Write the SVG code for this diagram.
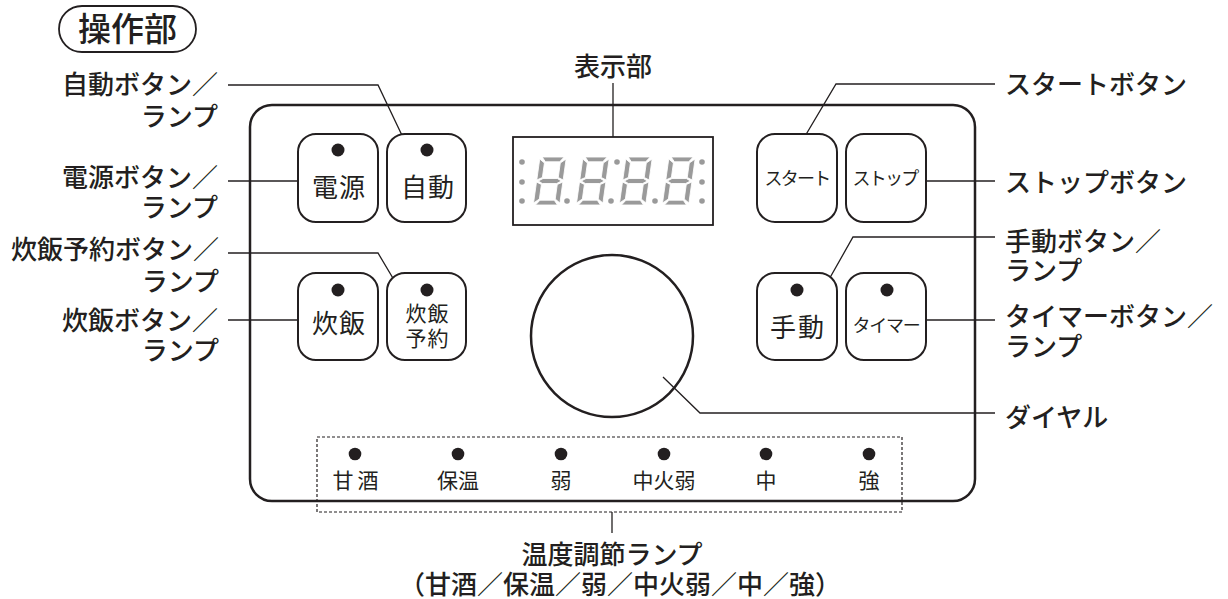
<svg xmlns="http://www.w3.org/2000/svg" width="1228" height="599" viewBox="0 0 1228 599">
<style>
text{font-family:"Noto Sans CJK JP","Noto Sans CJK SC",sans-serif;fill:#231f20}
.lbl{font-size:26px;font-weight:500}
.btn{fill:#fff;stroke:#231f20;stroke-width:2}
.bt{font-size:26px;font-weight:400;text-anchor:middle}
.sm{font-size:21px;font-weight:400;text-anchor:middle}
.xs{font-size:18px;font-weight:400;text-anchor:middle}
.lamp{fill:#231f20}
.ld{fill:none;stroke:#231f20;stroke-width:1.3}
.seg{fill:#9a9a9a;stroke:#fff;stroke-width:0.8}
.gd{fill:#9a9a9a}
</style>
<defs>
<g id="digit">
<polygon class="seg" points="2,0 22,0 18.5,4.8 5.5,4.8"/>
<polygon class="seg" points="0,2 4.8,6 4.8,20.5 0,23"/>
<polygon class="seg" points="24,2 24,23 19.2,20.5 19.2,6"/>
<polygon class="seg" points="1.5,24 5.5,21.5 18.5,21.5 22.5,24 18.5,26.5 5.5,26.5"/>
<polygon class="seg" points="0,25 4.8,27.5 4.8,42 0,46"/>
<polygon class="seg" points="24,25 24,46 19.2,42 19.2,27.5"/>
<polygon class="seg" points="5.5,43.2 18.5,43.2 22,48 2,48"/>
</g>
</defs>
<rect width="1228" height="599" fill="#fff"/>

<g id="title">
<rect x="59" y="6" width="137" height="46" rx="23" fill="none" stroke="#231f20" stroke-width="1.8"/>
<text x="127.5" y="41" font-size="33" font-weight="500" text-anchor="middle">操作部</text>
</g>

<g id="panel">
<rect x="250" y="105" width="725" height="396" rx="22" fill="none" stroke="#231f20" stroke-width="2.5"/>
</g>

<g id="connectors">
<polyline class="ld" points="228,85 378,85 408,148"/>
<polyline class="ld" points="228,181 307,181"/>
<polyline class="ld" points="228,253 378,253 400,290"/>
<polyline class="ld" points="228,320 307,320"/>
<polyline class="ld" points="613,83 613,138"/>
<polyline class="ld" points="798,148 836,84 995,84"/>
<polyline class="ld" points="921,181 995,181"/>
<polyline class="ld" points="823,290 853,237 995,237"/>
<polyline class="ld" points="921,320 995,320"/>
<polyline class="ld" points="663,377 700,413 995,413"/>
<polyline class="ld" points="612,512 612,533"/>
</g>

<g id="display">
<rect x="513" y="137" width="200" height="88" fill="#fff" stroke="#231f20" stroke-width="1.8"/>
<use href="#digit" transform="translate(540,157) skewX(-8) scale(1.1,1)"/>
<use href="#digit" transform="translate(583,157) skewX(-8) scale(1.1,1)"/>
<use href="#digit" transform="translate(626,157) skewX(-8) scale(1.1,1)"/>
<use href="#digit" transform="translate(669,157) skewX(-8) scale(1.1,1)"/>
<circle class="gd" cx="522" cy="162" r="2.8"/>
<circle class="gd" cx="522" cy="182" r="2.8"/>
<circle class="gd" cx="522" cy="201" r="2.8"/>
<circle class="gd" cx="567" cy="201" r="2.8"/>
<circle class="gd" cx="617" cy="162" r="2.8"/>
<circle class="gd" cx="611" cy="201" r="2.8"/>
<circle class="gd" cx="655" cy="201" r="2.8"/>
<circle class="gd" cx="702" cy="162" r="2.8"/>
<circle class="gd" cx="702" cy="182" r="2.8"/>
<circle class="gd" cx="702" cy="201" r="2.8"/>
</g>
<text class="lbl" x="613" y="76" text-anchor="middle">表示部</text>

<g id="btn-dengen">
<rect class="btn" x="298" y="134" width="80" height="88" rx="18"/>
<circle class="lamp" cx="338" cy="150" r="6.5"/>
<text class="bt" x="325 352" y="197">電源</text>
</g>
<g id="btn-jidou">
<rect class="btn" x="387" y="134" width="79" height="88" rx="18"/>
<circle class="lamp" cx="427" cy="150" r="6.5"/>
<text class="bt" x="414 441" y="197">自動</text>
</g>
<g id="btn-suihan">
<rect class="btn" x="298" y="273" width="80" height="87" rx="18"/>
<circle class="lamp" cx="338" cy="290" r="6.5"/>
<text class="bt" x="325 352" y="333">炊飯</text>
</g>
<g id="btn-yoyaku">
<rect class="btn" x="387" y="273" width="79" height="87" rx="18"/>
<circle class="lamp" cx="427" cy="290" r="6.5"/>
<text class="sm" x="416 438" y="321">炊飯</text>
<text class="sm" x="416 438" y="346">予約</text>
</g>
<g id="btn-start">
<rect class="btn" x="757" y="134" width="80" height="88" rx="18"/>
<text class="xs" x="797" y="185" letter-spacing="-1.8">スタート</text>
</g>
<g id="btn-stop">
<rect class="btn" x="846" y="134" width="80" height="88" rx="18"/>
<text class="xs" x="885" y="185" letter-spacing="-1.8">ストップ</text>
</g>
<g id="btn-shudou">
<rect class="btn" x="757" y="273" width="80" height="87" rx="18"/>
<circle class="lamp" cx="797" cy="290" r="6.5"/>
<text class="bt" x="783 811" y="337">手動</text>
</g>
<g id="btn-timer">
<rect class="btn" x="846" y="273" width="80" height="87" rx="18"/>
<circle class="lamp" cx="887" cy="290" r="6.5"/>
<text class="xs" x="886" y="332" letter-spacing="-1.3">タイマー</text>
</g>

<g id="dial">
<circle cx="612" cy="336" r="81" fill="none" stroke="#231f20" stroke-width="2.5"/>
</g>

<g id="temp-lamps">
<rect x="317" y="437" width="585" height="75" fill="none" stroke="#231f20" stroke-width="1.2" stroke-dasharray="3,2"/>
<circle class="lamp" cx="355" cy="454" r="6.3"/>
<circle class="lamp" cx="458" cy="454" r="6.3"/>
<circle class="lamp" cx="561" cy="454" r="6.3"/>
<circle class="lamp" cx="664" cy="454" r="6.3"/>
<circle class="lamp" cx="766" cy="454" r="6.3"/>
<circle class="lamp" cx="869" cy="454" r="6.3"/>
<text class="sm" x="343 368" y="488">甘酒</text>
<text class="sm" x="458" y="488">保温</text>
<text class="sm" x="561" y="488">弱</text>
<text class="sm" x="664" y="488">中火弱</text>
<text class="sm" x="766" y="488">中</text>
<text class="sm" x="869" y="488">強</text>
</g>

<g id="labels-left" text-anchor="end">
<text class="lbl" x="218" y="94">自動ボタン／</text>
<text class="lbl" x="218" y="126">ランプ</text>
<text class="lbl" x="218" y="187">電源ボタン／</text>
<text class="lbl" x="218" y="217">ランプ</text>
<text class="lbl" x="219" y="259">炊飯予約ボタン／</text>
<text class="lbl" x="219" y="291">ランプ</text>
<text class="lbl" x="218" y="330">炊飯ボタン／</text>
<text class="lbl" x="219" y="360">ランプ</text>
</g>

<g id="labels-right">
<text class="lbl" x="1005" y="94">スタートボタン</text>
<text class="lbl" x="1005" y="192">ストップボタン</text>
<text class="lbl" x="1005" y="251">手動ボタン／</text>
<text class="lbl" x="1005" y="280">ランプ</text>
<text class="lbl" x="1005" y="326">タイマーボタン／</text>
<text class="lbl" x="1005" y="356">ランプ</text>
<text class="lbl" x="1005" y="427">ダイヤル</text>
</g>

<g id="label-bottom" text-anchor="middle">
<text class="lbl" x="612" y="564">温度調節ランプ</text>
<text class="lbl" x="620" y="594">（甘酒／保温／弱／中火弱／中／強）</text>
</g>
</svg>
